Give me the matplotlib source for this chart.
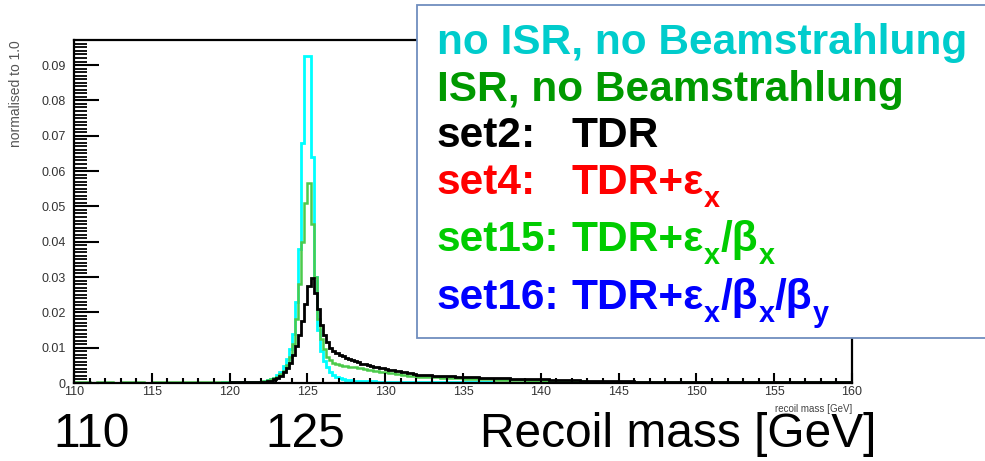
import numpy as np
import matplotlib
matplotlib.use("Agg")
import matplotlib.pyplot as plt
from matplotlib.patches import Rectangle
from matplotlib.ticker import MultipleLocator

# bin edges: coarse below the peak, 0.2 GeV through the peak, coarse tail
EDGES = np.concatenate([np.arange(110.0, 122.0, 0.5),
                        np.arange(122.0, 132.0, 0.2),
                        np.arange(132.0, 160.001, 0.5)])

# no ISR, no Beamstrahlung (cyan)
CYAN_LEFT = [0.0001, 0.0001, 0.0001, 0.0001, 0.0001, 0.0001, 0.0001, 0.0001,
             0.0001, 0.0001, 0.0001, 0.0001, 0.0001, 0.0001, 0.0001, 0.0001,
             0.0001, 0.0001, 0.0001, 0.0002, 0.0002, 0.0002, 0.0003, 0.0003]
CYAN_CORE = [0.0004, 0.0006, 0.0008, 0.0011, 0.0015, 0.0022, 0.0032, 0.0048,
             0.0068, 0.0095, 0.0140, 0.0230, 0.0380, 0.0680, 0.0925, 0.0925,
             0.0640, 0.0300, 0.0150, 0.0090, 0.0062, 0.0045, 0.0032, 0.0024,
             0.0018, 0.0014, 0.0011, 0.0009, 0.0008, 0.0007, 0.0006, 0.0006,
             0.0006, 0.0005, 0.0005, 0.0005, 0.0005, 0.0004, 0.0004, 0.0004,
             0.0004, 0.0004, 0.0003, 0.0003, 0.0003, 0.0003, 0.0003, 0.0003,
             0.0003, 0.0003]
CYAN_TAIL = [0.0003, 0.0003, 0.0003, 0.0002, 0.0002, 0.0002, 0.0002, 0.0002,
             0.0002, 0.0002, 0.0001, 0.0001, 0.0001, 0.0001, 0.0001, 0.0001,
             0.0001, 0.0001, 0.0001, 0.0001, 0.0001, 0.0001, 0.0001, 0.0001,
             0.0001, 0.0001, 0.0001, 0.0001, 0.0001, 0.0001, 0.0001, 0.0001,
             0.0001, 0.0001, 0.0001, 0.0001, 0.0001, 0.0001, 0.0001, 0.0001,
             0.0001, 0.0001, 0.0001, 0.0001, 0.0001, 0.0001, 0.0001, 0.0001,
             0.0001, 0.0001, 0.0001, 0.0001, 0.0001, 0.0001, 0.0001, 0.0001]

# set15 (light green)
GREEN_LEFT = [0.0002, 0.0002, 0.0001, 0.0002, 0.0002, 0.0001, 0.0002, 0.0002,
              0.0002, 0.0001, 0.0002, 0.0002, 0.0002, 0.0002, 0.0002, 0.0002,
              0.0002, 0.0003, 0.0002, 0.0003, 0.0003, 0.0003, 0.0004, 0.0004]
GREEN_CORE = [0.0005, 0.0006, 0.0008, 0.0010, 0.0013, 0.0018, 0.0025, 0.0035,
              0.0050, 0.0075, 0.0110, 0.0180, 0.0280, 0.0400, 0.0510, 0.0567,
              0.0450, 0.0300, 0.0180, 0.0125, 0.0095, 0.0075, 0.0065, 0.0058,
              0.0054, 0.0050, 0.0048, 0.0047, 0.0046, 0.0044, 0.0045, 0.0043,
              0.0042, 0.0040, 0.0038, 0.0037, 0.0035, 0.0034, 0.0032, 0.0031,
              0.0030, 0.0029, 0.0027, 0.0026, 0.0025, 0.0023, 0.0022, 0.0021,
              0.0020, 0.0019]
GREEN_TAIL = [0.0018, 0.0017, 0.0016, 0.0015, 0.0014, 0.0013, 0.0012, 0.0011,
              0.0011, 0.0010, 0.0009, 0.0009, 0.0008, 0.0008, 0.0007, 0.0007,
              0.0006, 0.0006, 0.0006, 0.0005, 0.0005, 0.0005, 0.0004, 0.0004,
              0.0004, 0.0004, 0.0003, 0.0003, 0.0003, 0.0003, 0.0003, 0.0003,
              0.0002, 0.0003, 0.0002, 0.0002, 0.0002, 0.0002, 0.0002, 0.0002,
              0.0002, 0.0002, 0.0002, 0.0002, 0.0002, 0.0002, 0.0002, 0.0002,
              0.0002, 0.0002, 0.0002, 0.0002, 0.0002, 0.0002, 0.0002, 0.0002]

# set2: TDR (black)
BLACK_LEFT = [0.0001, 0.0001, 0.0001, 0.0001, 0.0001, 0.0001, 0.0001, 0.0001,
              0.0001, 0.0001, 0.0001, 0.0001, 0.0001, 0.0001, 0.0001, 0.0001,
              0.0001, 0.0001, 0.0001, 0.0001, 0.0002, 0.0002, 0.0002, 0.0002]
BLACK_CORE = [0.0003, 0.0004, 0.0005, 0.0007, 0.0010, 0.0014, 0.0020, 0.0030,
              0.0042, 0.0058, 0.0080, 0.0105, 0.0135, 0.0175, 0.0225, 0.0275,
              0.0297, 0.0255, 0.0210, 0.0165, 0.0135, 0.0115, 0.0100, 0.0092,
              0.0085, 0.0080, 0.0076, 0.0072, 0.0068, 0.0066, 0.0061, 0.0060,
              0.0055, 0.0054, 0.0050, 0.0049, 0.0046, 0.0046, 0.0042, 0.0043,
              0.0039, 0.0038, 0.0036, 0.0035, 0.0033, 0.0032, 0.0030, 0.0029,
              0.0027, 0.0026]
BLACK_TAIL = [0.0024, 0.0023, 0.0021, 0.0020, 0.0019, 0.0018, 0.0017, 0.0016,
              0.0015, 0.0014, 0.0013, 0.0013, 0.0012, 0.0011, 0.0011, 0.0010,
              0.0010, 0.0009, 0.0009, 0.0008, 0.0008, 0.0007, 0.0007, 0.0006,
              0.0006, 0.0005, 0.0005, 0.0005, 0.0004, 0.0004, 0.0004, 0.0004,
              0.0003, 0.0003, 0.0003, 0.0003, 0.0003, 0.0003, 0.0003, 0.0003,
              0.0003, 0.0002, 0.0003, 0.0002, 0.0002, 0.0002, 0.0002, 0.0002,
              0.0002, 0.0002, 0.0002, 0.0002, 0.0002, 0.0002, 0.0002, 0.0002]

SERIES = [
    ("no ISR, no Beamstrahlung", CYAN_LEFT + CYAN_CORE + CYAN_TAIL, "#00FFFF", 2.0),
    ("set15", GREEN_LEFT + GREEN_CORE + GREEN_TAIL, "#4CCB4C", 1.8),
    ("set2", BLACK_LEFT + BLACK_CORE + BLACK_TAIL, "#000000", 2.0),
]

# legend lines: label, then the formula as (text, is_subscript) pieces
LEGEND_LEFT = ["no ISR, no Beamstrahlung", "ISR, no Beamstrahlung",
               "set2:", "set4:", "set15:", "set16:"]
LEGEND_RIGHT = [[], [], [("TDR", False)],
                [("TDR+ε", False), ("x", True)],
                [("TDR+ε", False), ("x", True), ("/β", False), ("x", True)],
                [("TDR+ε", False), ("x", True), ("/β", False), ("x", True),
                 ("/β", False), ("y", True)]]
LEGEND_COLORS = ["#00CCCC", "#009900", "#000000", "#FF0000", "#00CC00", "#0000FF"]
LEGEND_BASELINES = [54, 101, 147, 194, 251, 309]

BIG_LABELS = [("110", 92), ("125", 305)]

W, H = 985, 461
fig = plt.figure(figsize=(W / 100, H / 100), dpi=100)
ax = fig.add_axes([74 / W, 1 - 383 / H, (852 - 74) / W, (383 - 40) / H])

for name, vals, color, lw in SERIES:
    assert len(vals) == len(EDGES) - 1
    ax.stairs(vals, EDGES, color=color, lw=lw, baseline=None)

ax.set_xlim(110, 160)
ax.set_ylim(0, 0.0971)
ax.xaxis.set_major_locator(MultipleLocator(5))
ax.xaxis.set_minor_locator(MultipleLocator(1))
ax.yaxis.set_major_locator(MultipleLocator(0.01))
ax.yaxis.set_minor_locator(MultipleLocator(0.001))
ax.yaxis.set_major_formatter(lambda v, p: "0" if v == 0 else f"{v:.2f}")
ax.tick_params(axis="both", which="both", direction="in", width=1.5,
               labelcolor="#333333", labelsize=9)
ax.tick_params(axis="y", which="major", length=18, pad=6)
ax.tick_params(axis="y", which="minor", length=9, width=1.3)
ax.tick_params(axis="x", which="major", length=7, pad=2)
ax.tick_params(axis="x", which="minor", length=3.5)
for lab in ax.get_xticklabels() + ax.get_yticklabels():
    lab.set_family(["Liberation Sans Narrow", "Liberation Sans"])
for sp in ax.spines.values():
    sp.set_linewidth(1.6)

ax.text(1.0, -0.06, "recoil mass [GeV]", transform=ax.transAxes, ha="right",
        va="top", fontsize=7, color="#444444",
        family=["Liberation Sans Narrow", "Liberation Sans"])
fig.text(16 / W, 1 - 40 / H, "normalised to 1.0", rotation=90, ha="center",
         va="top", fontsize=10, color="#555555",
         family=["Liberation Sans Narrow", "Liberation Sans"])

# legend box on top of the frame
box = Rectangle((417 / W, 1 - 338 / H), (W + 10 - 417) / W, (338 - 5) / H,
                transform=fig.transFigure, facecolor="white",
                edgecolor="#6F8EBE", lw=1.3, zorder=10)
fig.patches.append(box)

renderer = fig.canvas.get_renderer()
FS = 30.5
for left, pieces, color, yb in zip(LEGEND_LEFT, LEGEND_RIGHT, LEGEND_COLORS,
                                   LEGEND_BASELINES):
    fig.text(437 / W, 1 - yb / H, left, color=color, fontsize=FS,
             fontweight="bold", family="Liberation Sans", va="baseline",
             zorder=11)
    x = 571
    for txt, sub in pieces:
        t = fig.text(x / W, 1 - (yb + (13 if sub else 0)) / H, txt, color=color,
                     fontsize=FS * 0.68 if sub else FS, fontweight="bold",
                     family="Liberation Sans", va="baseline", zorder=11)
        x = t.get_window_extent(renderer).x1 + (0 if sub else 1)

for txt, xc in BIG_LABELS:
    fig.text(xc / W, 1 - 447 / H, txt, ha="center", va="baseline", fontsize=34.5,
             family=["Liberation Sans Narrow", "Liberation Sans"])
fig.text(480 / W, 1 - 447 / H, "Recoil mass [GeV]", ha="left", va="baseline",
         fontsize=34.5, family=["Liberation Sans Narrow", "Liberation Sans"])

fig.savefig("out.png", dpi=100)
